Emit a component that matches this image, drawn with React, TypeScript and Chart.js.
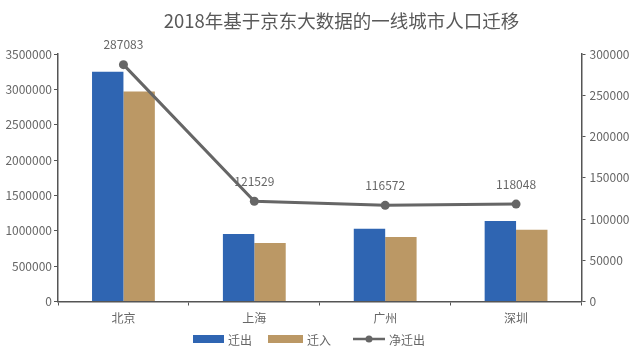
import React, { useEffect, useRef } from "react";
import { Chart, registerables } from "chart.js";

Chart.register(...registerables);

const TITLE = "2018年基于京东大数据的一线城市人口迁移";
const categories = ["北京", "上海", "广州", "深圳"];
const outflow = [3250000, 955000, 1030000, 1138000];
const inflow = [2970000, 826000, 911000, 1016000];
const netOutflow = [287083, 121529, 116572, 118048];
const seriesNames = ["迁出", "迁入", "净迁出"];
const leftTicksMax = 3500000;
const leftStep = 500000;
const rightTicksMax = 300000;
const rightStep = 50000;

const BLUE = "#2f65b2";
const TAN = "#bb9865";
const LINE = "#666666";
const AXIS = "#555555";
const TEXT = "#666666";
const FONT = "'Noto Sans CJK SC', 'Noto Sans', sans-serif";

const decorPlugin = {
  id: "decor",
  afterDraw(chart: any) {
    const ctx = chart.ctx;
    ctx.save();
    // title
    ctx.font = `18.5px ${FONT}`;
    ctx.fillStyle = "#595959";
    ctx.textAlign = "center";
    ctx.textBaseline = "middle";
    ctx.fillText(TITLE, 341.5, 21);

    // line data labels
    const meta = chart.getDatasetMeta(0);
    ctx.font = `12px ${FONT}`;
    ctx.fillStyle = TEXT;
    ctx.textAlign = "center";
    meta.data.forEach((pt: any, i: number) => {
      ctx.fillText(String(netOutflow[i]), pt.x, pt.y - 20);
    });

    // legend
    const ly = 339;
    ctx.textAlign = "left";
    ctx.font = `12px ${FONT}`;
    let x = 193;
    ctx.fillStyle = BLUE;
    ctx.fillRect(x, ly - 4, 31, 8);
    ctx.fillStyle = TEXT;
    ctx.fillText(seriesNames[0], x + 35, ly + 1);
    x = 268;
    ctx.fillStyle = TAN;
    ctx.fillRect(x, ly - 4, 35, 8);
    ctx.fillStyle = TEXT;
    ctx.fillText(seriesNames[1], x + 39, ly + 1);
    x = 353;
    ctx.strokeStyle = LINE;
    ctx.lineWidth = 2.5;
    ctx.beginPath();
    ctx.moveTo(x, ly);
    ctx.lineTo(x + 32, ly);
    ctx.stroke();
    ctx.fillStyle = LINE;
    ctx.beginPath();
    ctx.arc(x + 16, ly, 3.5, 0, Math.PI * 2);
    ctx.fill();
    ctx.fillStyle = TEXT;
    ctx.fillText(seriesNames[2], x + 36, ly + 1);
    ctx.restore();
  },
};

const plain = (v: any) => String(v);

export default function App() {
  const ref = useRef<HTMLCanvasElement>(null);
  useEffect(() => {
    document.body.style.margin = "0";
    const chart = new Chart(ref.current as HTMLCanvasElement, {
      type: "bar",
      data: {
        labels: categories,
        datasets: [
          {
            type: "line",
            label: seriesNames[2],
            data: netOutflow,
            yAxisID: "y1",
            borderColor: LINE,
            backgroundColor: LINE,
            borderWidth: 3,
            pointRadius: 4.5,
            pointBackgroundColor: LINE,
            pointBorderWidth: 0,
            tension: 0,
            order: 0,
          } as any,
          {
            type: "bar",
            label: seriesNames[0],
            data: outflow,
            yAxisID: "y",
            backgroundColor: BLUE,
            barPercentage: 1,
            categoryPercentage: 0.48,
            order: 1,
          },
          {
            type: "bar",
            label: seriesNames[1],
            data: inflow,
            yAxisID: "y",
            backgroundColor: TAN,
            barPercentage: 1,
            categoryPercentage: 0.48,
            order: 1,
          },
        ],
      },
      options: {
        responsive: false,
        animation: false,
        layout: { padding: { left: 0, right: 0, top: 54, bottom: 29.5 } },
        plugins: {
          legend: { display: false },
          title: { display: false },
          tooltip: { enabled: false },
        },
        scales: {
          x: {
            offset: true,
            grid: {
              offset: true,
              drawOnChartArea: false,
              drawTicks: true,
              tickLength: 4,
              color: AXIS,
            },
            border: { display: true, color: AXIS, width: 1.5 },
            ticks: { color: TEXT, font: { family: FONT, size: 12 }, padding: 6 },
            afterFit(scale: any) {
              scale.height = 22;
            },
          },
          y: {
            position: "left",
            min: 0,
            max: leftTicksMax,
            ticks: {
              stepSize: leftStep,
              color: TEXT,
              font: { family: FONT, size: 12 },
              padding: 2,
              callback: plain,
            },
            grid: { drawOnChartArea: false, drawTicks: true, tickLength: 4, color: AXIS },
            border: { display: true, color: AXIS, width: 1.5 },
            afterFit(scale: any) {
              scale.width = 58;
            },
          },
          y1: {
            position: "right",
            min: 0,
            max: rightTicksMax,
            ticks: {
              stepSize: rightStep,
              color: TEXT,
              font: { family: FONT, size: 12 },
              padding: 4,
              callback: plain,
            },
            grid: { drawOnChartArea: false, drawTicks: true, tickLength: 4, color: AXIS },
            border: { display: true, color: AXIS, width: 1.5 },
            afterFit(scale: any) {
              scale.width = 58.5;
            },
          },
        },
      },
      plugins: [decorPlugin],
    });
    return () => chart.destroy();
  }, []);
  return (
    <div style={{ width: 640, height: 353 }}>
      <canvas ref={ref} width={640} height={353} style={{ display: "block" }} />
    </div>
  );
}
